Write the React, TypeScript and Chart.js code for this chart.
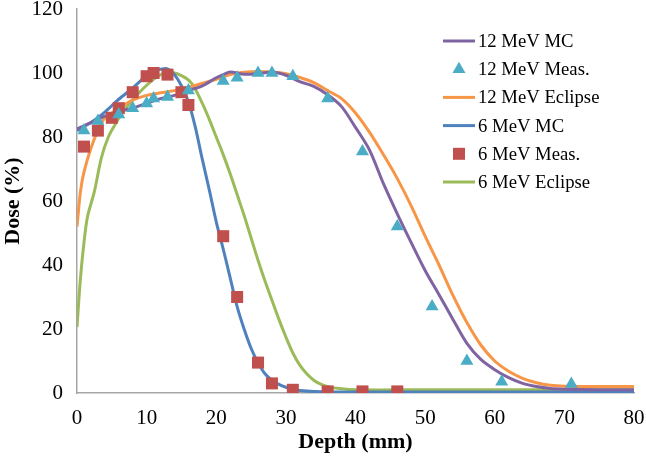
import React, { useEffect, useRef } from "react";
import { Chart, registerables } from "chart.js";

Chart.register(...registerables);

// 12 MeV Monte Carlo
const mc12X = [0, 1, 2, 3, 4, 6, 8, 10, 12, 14, 16, 18, 20, 21, 22, 24, 26, 28, 30, 32, 34, 36, 38, 40, 42, 44, 46, 48, 50, 52, 54, 56, 58, 60, 62, 64, 66, 68, 70, 75, 80];
const mc12Y = [82.5, 83.5, 84.5, 85.5, 86.5, 88, 89, 90.5, 92, 93, 94.5, 96, 98.5, 99.5, 100.3, 99.6, 99.8, 100.3, 99.3, 97.3, 95.8, 93.2, 89.5, 83, 76, 65.5, 56, 47, 38.3, 30.7, 23, 15.5, 10.5, 7.3, 4.8, 3, 2, 1.4, 1.2, 1, 1];

// 12 MeV measured
const meas12X = [1, 3, 6, 8, 10, 11, 13, 16, 21, 23, 26, 28, 31, 36, 41, 46, 51, 56, 61, 71];
const meas12Y = [82, 85, 87, 89, 90.5, 92, 92.5, 94.5, 97.5, 98.5, 100, 100, 99, 92, 75.5, 52, 27, 10, 3.5, 2.8];

// 12 MeV Eclipse
const ecl12X = [0, 0.5, 1, 2, 3, 4, 5, 6, 8, 10, 12, 14, 16, 18, 20, 22, 24, 26, 28, 30, 32, 34, 36, 38, 40, 42, 44, 46, 48, 50, 52, 54, 56, 58, 60, 62, 64, 66, 68, 70, 75, 80];
const ecl12Y = [52, 63, 69, 76.5, 82, 86, 87.5, 89, 91.5, 93, 93.8, 94.5, 95.5, 96.8, 98, 99.5, 100.2, 100.5, 100.3, 99.8, 98.6, 97, 94.5, 92, 87.5, 81.5, 74.5, 67, 58.5, 49, 40, 30.5, 22, 15, 10, 6.8, 4.6, 3.2, 2.4, 2.1, 2, 2];

// 6 MeV Monte Carlo
const mc6X = [0, 2, 4, 6, 8, 9, 10, 11, 12, 13, 14, 15, 16, 17, 18, 19, 20, 21, 22, 23, 24, 25, 26, 27, 28, 29, 30, 31, 32, 34, 40, 50, 60, 70, 80];
const mc6Y = [82, 84.5, 87.8, 91.8, 95.3, 97.3, 99.4, 100.8, 101.2, 101.3, 99.5, 96, 91, 83, 73, 63.5, 53.5, 45, 36, 27, 20, 14, 9.5, 6, 4, 2.7, 1.8, 1.2, 0.8, 0.5, 0.3, 0.3, 0.3, 0.3, 0.3];

// 6 MeV measured
const meas6X = [1, 3, 5, 6, 8, 10, 11, 13, 15, 16, 21, 23, 26, 28, 31, 36, 41, 46];
const meas6Y = [77, 82, 86, 89, 94, 99, 100, 99.5, 94, 90, 49, 30, 9.5, 3, 1, 0.5, 0.5, 0.5];

// 6 MeV Eclipse
const ecl6X = [0, 0.5, 1, 1.5, 2.5, 3.5, 4.5, 5.5, 7, 9, 11, 13, 15, 16.5, 18, 19, 20, 21, 22, 23, 24, 25, 26, 27, 28, 29, 30, 31, 32, 33, 34, 35, 36, 38, 40, 50, 60, 70, 80];
const ecl6Y = [20.6, 36, 47, 55, 63, 73.5, 80, 84, 89, 94, 98, 100.3, 99.2, 96.7, 90.5, 85.5, 80, 74.5, 68.5, 62, 55.5, 48.5, 41.5, 35, 29, 23, 17.5, 12.5, 8.7, 6, 4, 2.8, 2, 1.3, 1, 1, 1, 1, 1];

const seriesLabels = ["12 MeV MC", "12 MeV Meas.", "12 MeV Eclipse", "6 MeV MC", "6 MeV Meas.", "6 MeV Eclipse"];
const xTicks = [0, 10, 20, 30, 40, 50, 60, 70, 80];
const yTicks = [0, 20, 40, 60, 80, 100, 120];

const zip = (xs: number[], ys: number[]) => xs.map((x, i) => ({ x, y: ys[i] }));

const SERIF = "'Liberation Serif', 'Times New Roman', serif";

const legendPlugin = {
  id: "insideLegend",
  afterDraw(chart: any) {
    const ctx = chart.ctx;
    const items = chart.data.datasets;
    const x0 = 443;
    const lineLen = 32;
    const textX = 478;
    const y0 = 41;
    const step = 28.2;
    ctx.save();
    ctx.font = `18.7px ${SERIF}`;
    ctx.textBaseline = "middle";
    ctx.textAlign = "left";
    items.forEach((ds: any, i: number) => {
      const y = y0 + i * step;
      if (ds.showLine) {
        ctx.strokeStyle = ds.borderColor;
        ctx.lineWidth = 3;
        ctx.beginPath();
        ctx.moveTo(x0, y);
        ctx.lineTo(x0 + lineLen, y);
        ctx.stroke();
      } else {
        ctx.fillStyle = ds.backgroundColor;
        const cx = x0 + lineLen / 2;
        if (ds.pointStyle === "triangle") {
          const r = 7.5;
          ctx.beginPath();
          ctx.moveTo(cx, y - r);
          ctx.lineTo(cx + r * 0.866, y + r * 0.5);
          ctx.lineTo(cx - r * 0.866, y + r * 0.5);
          ctx.closePath();
          ctx.fill();
        } else {
          ctx.fillRect(cx - 6, y - 6, 12, 12);
        }
      }
      ctx.fillStyle = "#000";
      ctx.fillText(ds.label, textX, y + 1);
    });
    ctx.restore();
  },
};

export default function App() {
  const ref = useRef<HTMLCanvasElement | null>(null);

  useEffect(() => {
    if (!ref.current) return;
    const lineDs = (label: string, xs: number[], ys: number[], color: string) => ({
      label,
      data: zip(xs, ys),
      showLine: true,
      borderColor: color,
      backgroundColor: color,
      borderWidth: 3,
      pointRadius: 0,
      tension: 0.3,
      order: 2,
    });
    const markDs = (label: string, xs: number[], ys: number[], color: string, style: string, r: number) => ({
      label,
      data: zip(xs, ys),
      showLine: false,
      borderColor: color,
      backgroundColor: color,
      borderWidth: 0,
      pointStyle: style,
      pointRadius: r,
      order: 1,
    });

    const chart = new Chart(ref.current, {
      type: "scatter",
      data: {
        datasets: [
          lineDs(seriesLabels[0], mc12X, mc12Y, "#8064A2"),
          markDs(seriesLabels[1], meas12X, meas12Y, "#4BACC6", "triangle", 7.5),
          lineDs(seriesLabels[2], ecl12X, ecl12Y, "#F79646"),
          lineDs(seriesLabels[3], mc6X, mc6Y, "#4F81BD"),
          markDs(seriesLabels[4], meas6X, meas6Y, "#C0504D", "rect", 8.5),
          lineDs(seriesLabels[5], ecl6X, ecl6Y, "#9BBB59"),
        ] as any,
      },
      options: {
        animation: false,
        responsive: true,
        maintainAspectRatio: false,
        layout: { padding: { left: 0, top: 9, right: 12, bottom: 0 } },
        plugins: { legend: { display: false }, tooltip: { enabled: false } },
        scales: {
          x: {
            type: "linear",
            min: 0,
            max: 80,
            afterBuildTicks: (s: any) => {
              s.ticks = xTicks.map((v) => ({ value: v }));
            },
            afterFit: (s: any) => {
              s.height = 67;
              s.paddingLeft = 0;
              s.paddingRight = 0;
            },
            grid: { display: false, drawTicks: false },
            border: { display: true, color: "#A6A6A6", width: 1.5 },
            ticks: { color: "#000", font: { family: SERIF, size: 21 }, padding: 13, maxRotation: 0 },
            title: {
              display: true,
              text: "Depth (mm)",
              color: "#000",
              font: { family: SERIF, size: 22, weight: "bold" },
              padding: { top: 0, bottom: 4 },
            },
          },
          y: {
            type: "linear",
            min: 0,
            max: 120,
            afterBuildTicks: (s: any) => {
              s.ticks = yTicks.map((v) => ({ value: v }));
            },
            afterFit: (s: any) => {
              s.width = 77;
              s.paddingTop = 0;
              s.paddingBottom = 0;
            },
            grid: { display: false, drawTicks: false },
            border: { display: true, color: "#A6A6A6", width: 1.5 },
            ticks: { color: "#000", font: { family: SERIF, size: 21 }, padding: 14 },
            title: {
              display: true,
              text: "Dose (%)",
              color: "#000",
              font: { family: SERIF, size: 22, weight: "bold" },
              padding: { top: 0, bottom: 0 },
            },
          },
        },
      },
      plugins: [legendPlugin],
    });
    return () => chart.destroy();
  }, []);

  return (
    <div style={{ position: "absolute", left: 0, top: 0, width: 646, height: 460, background: "#fff" }}>
      <canvas ref={ref} />
    </div>
  );
}
